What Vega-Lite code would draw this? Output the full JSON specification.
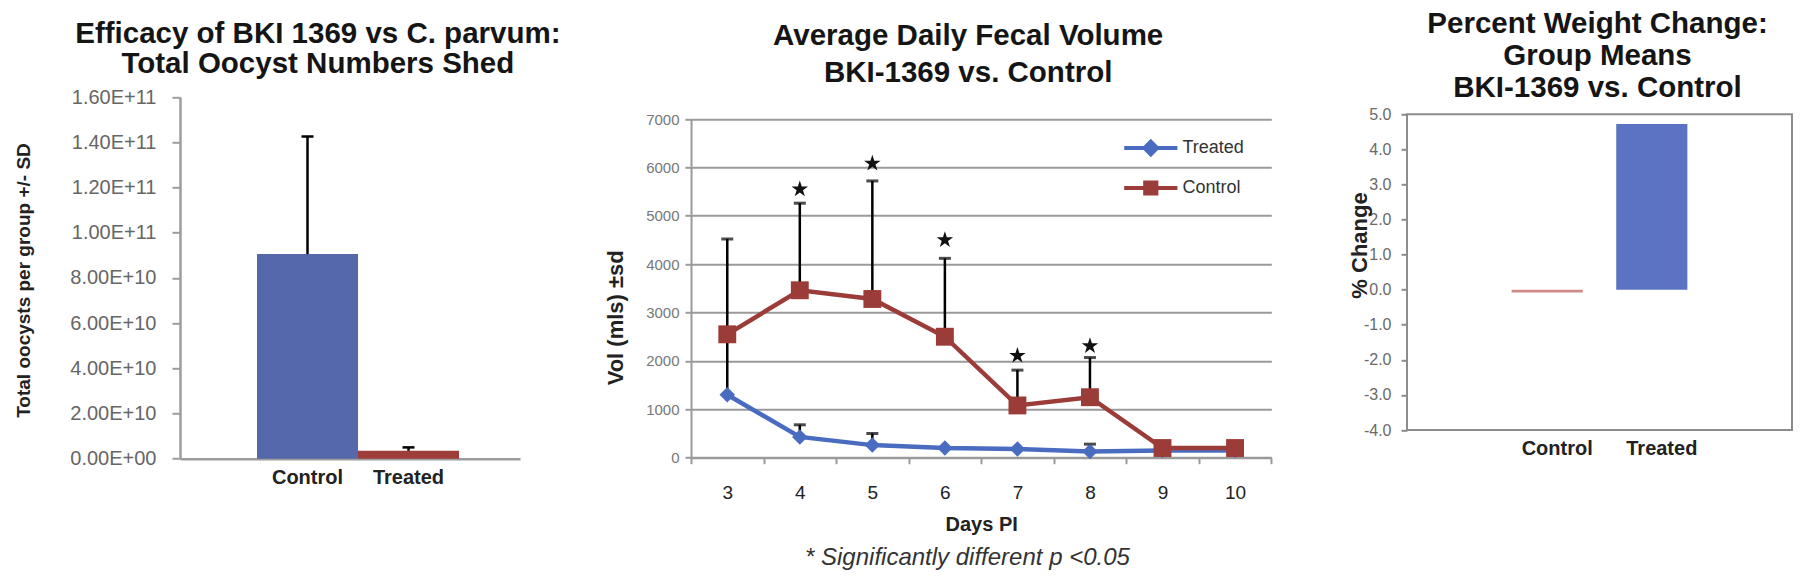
{
  "$schema": "https://vega.github.io/schema/vega-lite/v6.json",
  "autosize": "none",
  "padding": {"left": 180, "top": 114.3, "right": 1620, "bottom": 464.7},
  "background": "white",
  "config": {
    "font": "Liberation Sans",
    "view": {"stroke": null},
    "title": {"font": "Liberation Sans", "fontWeight": "bold", "color": "#151515"},
    "axis": {"labelFont": "Liberation Sans", "titleFont": "Liberation Sans"},
    "legend": {"labelFont": "Liberation Sans"}
  },
  "title": {
    "text": "* Significantly different p <0.05",
    "orient": "bottom",
    "anchor": "start",
    "frame": "group",
    "dx": 625,
    "offset": 11,
    "fontSize": 24,
    "fontStyle": "italic",
    "fontWeight": "normal",
    "color": "#333333"
  },
  "datasets": {
    "fecal": [
      {"day": 3, "group": "Treated", "vol": 1300},
      {"day": 4, "group": "Treated", "vol": 430},
      {"day": 5, "group": "Treated", "vol": 260},
      {"day": 6, "group": "Treated", "vol": 200},
      {"day": 7, "group": "Treated", "vol": 180},
      {"day": 8, "group": "Treated", "vol": 130},
      {"day": 9, "group": "Treated", "vol": 150},
      {"day": 10, "group": "Treated", "vol": 150},
      {"day": 3, "group": "Control", "vol": 2550},
      {"day": 4, "group": "Control", "vol": 3460},
      {"day": 5, "group": "Control", "vol": 3280},
      {"day": 6, "group": "Control", "vol": 2500},
      {"day": 7, "group": "Control", "vol": 1080},
      {"day": 8, "group": "Control", "vol": 1250},
      {"day": 9, "group": "Control", "vol": 200},
      {"day": 10, "group": "Control", "vol": 200}
    ],
    "err": [
      {"day": 3, "group": "Control", "vol": 2550, "upper": 4520},
      {"day": 4, "group": "Control", "vol": 3460, "upper": 5260},
      {"day": 5, "group": "Control", "vol": 3280, "upper": 5720},
      {"day": 6, "group": "Control", "vol": 2500, "upper": 4120},
      {"day": 7, "group": "Control", "vol": 1080, "upper": 1810},
      {"day": 8, "group": "Control", "vol": 1250, "upper": 2070},
      {"day": 3, "group": "Treated", "vol": 1300, "upper": 2450},
      {"day": 4, "group": "Treated", "vol": 430, "upper": 680},
      {"day": 5, "group": "Treated", "vol": 260, "upper": 500},
      {"day": 8, "group": "Treated", "vol": 130, "upper": 280}
    ],
    "stars": [
      {"day": 4, "star": 5550},
      {"day": 5, "star": 6080},
      {"day": 6, "star": 4500},
      {"day": 7, "star": 2110},
      {"day": 8, "star": 2310}
    ]
  },
  "spacing": 135,
  "bounds": "flush",
  "resolve": {
    "scale": {"color": "independent", "stroke": "independent", "shape": "independent"},
    "legend": {"color": "independent", "stroke": "independent", "shape": "independent"}
  },
  "hconcat": [
    {
      "width": 375.7,
      "height": 344.4,
      "title": {
        "text": ["Efficacy of BKI 1369 vs C. parvum:", "Total Oocyst Numbers Shed"],
        "fontSize": 29.5,
        "lineHeight": 30,
        "anchor": "middle",
        "frame": "group",
        "dx": -50,
        "offset": 8
      },
      "data": {"values": [
        {"group": "Control", "total": 90500000000, "upper": 142500000000},
        {"group": "Treated", "total": 3500000000, "upper": 5000000000}
      ]},
      "encoding": {
        "x": {
          "field": "group", "type": "nominal", "sort": ["Control", "Treated"],
          "scale": {"type": "band", "range": [0, 340], "paddingInner": 0, "paddingOuter": 0.683, "align": 0.558},
          "axis": {
            "title": null, "labelAngle": 0, "ticks": false,
            "domainColor": "#9d9d9d", "domainWidth": 2.5,
            "labelFontSize": 20, "labelFontWeight": "bold", "labelColor": "#222222", "labelPadding": 9
          }
        }
      },
      "layer": [
        {
          "mark": {"type": "bar"},
          "encoding": {
            "y": {
              "field": "total", "type": "quantitative", "title": "Total oocysts per group +/- SD",
              "scale": {"domain": [0, 160000000000], "range": [344.4, -17.3], "nice": false},
              "axis": {
                "values": [0, 20000000000, 40000000000, 60000000000, 80000000000, 100000000000, 120000000000, 140000000000, 160000000000],
                "labelExpr": "datum.value == 0 ? '0.00E+00' : upper(format(datum.value, '.2e'))",
                "labelFontSize": 20, "labelColor": "#666666", "labelPadding": 16, "labelOverlap": false,
                "tickSize": 8, "tickColor": "#9d9d9d", "tickWidth": 2,
                "domainColor": "#9d9d9d", "domainWidth": 2.5, "grid": false,
                "titleFontSize": 19, "titleFontWeight": "bold", "titleColor": "#222222",
                "titleX": -157, "titleY": 165.7, "titleAngle": -90, "titleAlign": "center", "titleBaseline": "middle"
              }
            },
            "color": {
              "field": "group", "type": "nominal",
              "scale": {"domain": ["Control", "Treated"], "range": ["#5468ab", "#9e3e3b"]},
              "legend": null
            }
          }
        },
        {
          "mark": {"type": "rule", "color": "#000000", "strokeWidth": 2.5},
          "encoding": {
            "y": {"field": "total", "type": "quantitative", "title": "Total oocysts per group +/- SD"},
            "y2": {"field": "upper"}
          }
        },
        {
          "mark": {"type": "tick", "color": "#000000", "thickness": 2.5, "size": 12, "opacity": 1},
          "encoding": {
            "y": {"field": "upper", "type": "quantitative", "title": "Total oocysts per group +/- SD"}
          }
        }
      ]
    },
    {
      "width": 580.3,
      "height": 343.4,
      "title": {
        "text": ["Average Daily Fecal Volume", "BKI-1369 vs. Control"],
        "fontSize": 29.5,
        "lineHeight": 37,
        "anchor": "middle",
        "frame": "group",
        "dx": -13,
        "offset": 24
      },
      "encoding": {
        "x": {
          "field": "day", "type": "ordinal",
          "scale": {"type": "band", "paddingInner": 0, "paddingOuter": 0},
          "axis": {
            "title": "Days PI", "labelAngle": 0, "tickBand": "extent",
            "tickSize": 6, "tickColor": "#9a9a9a", "tickWidth": 2,
            "domainColor": "#9a9a9a", "domainWidth": 2,
            "labelFontSize": 19, "labelColor": "#222222", "labelPadding": 20,
            "titleFontSize": 20, "titleFontWeight": "bold", "titleColor": "#222222",
            "titleY": 67, "titleBaseline": "middle"
          }
        }
      },
      "layer": [
        {
          "data": {"name": "err"},
          "mark": {"type": "rule", "color": "#000000", "strokeWidth": 2.5},
          "encoding": {
            "y": {
              "field": "vol", "type": "quantitative", "title": "Vol (mls) ±sd",
              "scale": {"domain": [0, 7000], "range": [343.4, 4.7], "nice": false},
              "axis": {
                "values": [0, 1000, 2000, 3000, 4000, 5000, 6000, 7000],
                "format": "d", "labelOverlap": false,
                "grid": true, "gridColor": "#9a9a9a", "gridWidth": 2,
                "domainColor": "#9a9a9a", "domainWidth": 2,
                "tickSize": 6, "tickColor": "#9a9a9a", "tickWidth": 2,
                "labelFontSize": 15, "labelColor": "#777777", "labelPadding": 6,
                "titleFontSize": 22, "titleFontWeight": "bold", "titleColor": "#222222",
                "titleX": -76, "titleY": 203, "titleAngle": -90, "titleAlign": "center", "titleBaseline": "middle"
              }
            },
            "y2": {"field": "upper"}
          }
        },
        {
          "data": {"name": "err"},
          "mark": {"type": "tick", "color": "#000000", "thickness": 3, "size": 12},
          "encoding": {
            "y": {"field": "upper", "type": "quantitative", "title": "Vol (mls) ±sd"}
          }
        },
        {
          "data": {"name": "fecal"},
          "mark": {"type": "line", "strokeWidth": 4.5},
          "encoding": {
            "y": {"field": "vol", "type": "quantitative", "title": "Vol (mls) ±sd"},
            "color": {
              "field": "group", "type": "nominal",
              "scale": {"domain": ["Treated", "Control"], "range": ["#4a6cc0", "#9b3c39"]}
            }
          }
        },
        {
          "data": {"name": "fecal"},
          "transform": [{"filter": "datum.group == 'Treated'"}],
          "mark": {"type": "point", "shape": "diamond", "filled": true, "size": 240, "opacity": 1},
          "encoding": {
            "y": {"field": "vol", "type": "quantitative", "title": "Vol (mls) ±sd"},
            "color": {"field": "group", "type": "nominal"}
          }
        },
        {
          "data": {"name": "fecal"},
          "transform": [{"filter": "datum.group == 'Control'"}],
          "mark": {"type": "point", "shape": "square", "filled": true, "size": 320, "opacity": 1},
          "encoding": {
            "y": {"field": "vol", "type": "quantitative", "title": "Vol (mls) ±sd"},
            "color": {"field": "group", "type": "nominal"}
          }
        },
        {
          "data": {"name": "stars"},
          "mark": {
            "type": "point", "filled": true, "opacity": 1, "color": "#111111", "size": 300,
            "shape": "M0,-1L0.2245,-0.309L0.951,-0.309L0.363,0.118L0.588,0.809L0,0.382L-0.588,0.809L-0.363,0.118L-0.951,-0.309L-0.2245,-0.309Z"
          },
          "encoding": {
            "y": {"field": "star", "type": "quantitative", "title": "Vol (mls) ±sd"}
          }
        },
        {
          "data": {"name": "fecal"},
          "mark": {"type": "point", "filled": true, "opacity": 0, "strokeWidth": 4},
          "encoding": {
            "y": {"field": "vol", "type": "quantitative", "title": "Vol (mls) ±sd"},
            "color": {
              "field": "group", "type": "nominal",
              "legend": {
                "title": null, "orient": "none", "legendX": 450.8, "legendY": 24.7,
                "symbolSize": 196, "symbolStrokeWidth": 4, "symbolOpacity": 1,
                "labelFontSize": 18, "labelColor": "#333333", "labelOffset": 22.6,
                "rowPadding": 11, "padding": 0
              }
            },
            "stroke": {
              "field": "group", "type": "nominal",
              "scale": {"domain": ["Treated", "Control"], "range": ["#4a6cc0", "#9b3c39"]}
            },
            "shape": {
              "field": "group", "type": "nominal",
              "scale": {
                "domain": ["Treated", "Control"],
                "range": ["M-3.8,0H3.8M0,-0.9L0.9,0L0,0.9L-0.9,0Z", "M-3.8,0H3.8M-0.8,-0.8H0.8V0.8H-0.8Z"]
              }
            }
          }
        }
      ]
    },
    {
      "width": 385,
      "height": 315.7,
      "view": {"stroke": "#8c8c8c", "strokeWidth": 2},
      "title": {
        "text": ["Percent Weight Change:", "Group Means", "BKI-1369  vs. Control"],
        "fontSize": 29.5,
        "lineHeight": 32,
        "anchor": "middle",
        "frame": "group",
        "dx": -2,
        "offset": 2.5
      },
      "data": {"values": [
        {"group": "Control", "change": -0.08},
        {"group": "Treated", "change": 4.72}
      ]},
      "encoding": {
        "x": {
          "field": "group", "type": "nominal", "sort": ["Control", "Treated"],
          "scale": {"type": "band", "paddingInner": 0.32, "paddingOuter": 1.0},
          "axis": {
            "title": null, "labelAngle": 0, "ticks": false, "domain": false,
            "labelFontSize": 20, "labelFontWeight": "bold", "labelColor": "#222222",
            "labelPadding": 8, "labelOffset": 10
          }
        },
        "y": {
          "type": "quantitative", "title": "% Change",
          "scale": {"domain": [-4, 5], "nice": false, "zero": false},
          "axis": {
            "values": [-4, -3, -2, -1, 0, 1, 2, 3, 4, 5],
            "tickCount": 10,
            "labelExpr": "replace(format(datum.value, '.1f'), '\u2212', '-')",
            "labelOverlap": false, "labelFlush": false,
            "grid": false, "domain": false,
            "tickSize": 6, "tickColor": "#8c8c8c", "tickWidth": 2,
            "labelFontSize": 16, "labelColor": "#6a6a6a", "labelPadding": 10,
            "titleFontSize": 22, "titleFontWeight": "bold", "titleColor": "#222222",
            "titleX": -48, "titleY": 130.7, "titleAngle": -90, "titleAlign": "center", "titleBaseline": "middle"
          }
        }
      },
      "layer": [
        {
          "mark": {"type": "bar"},
          "encoding": {
            "y": {"field": "change"},
            "color": {
              "field": "group", "type": "nominal",
              "scale": {"domain": ["Control", "Treated"], "range": ["#d08a88", "#5b73c2"]},
              "legend": null
            }
          }
        },
        {
          "mark": {"type": "rule", "color": "#555555", "strokeWidth": 2},
          "encoding": {
            "y": {"datum": 0}
          }
        }
      ]
    }
  ]
}
